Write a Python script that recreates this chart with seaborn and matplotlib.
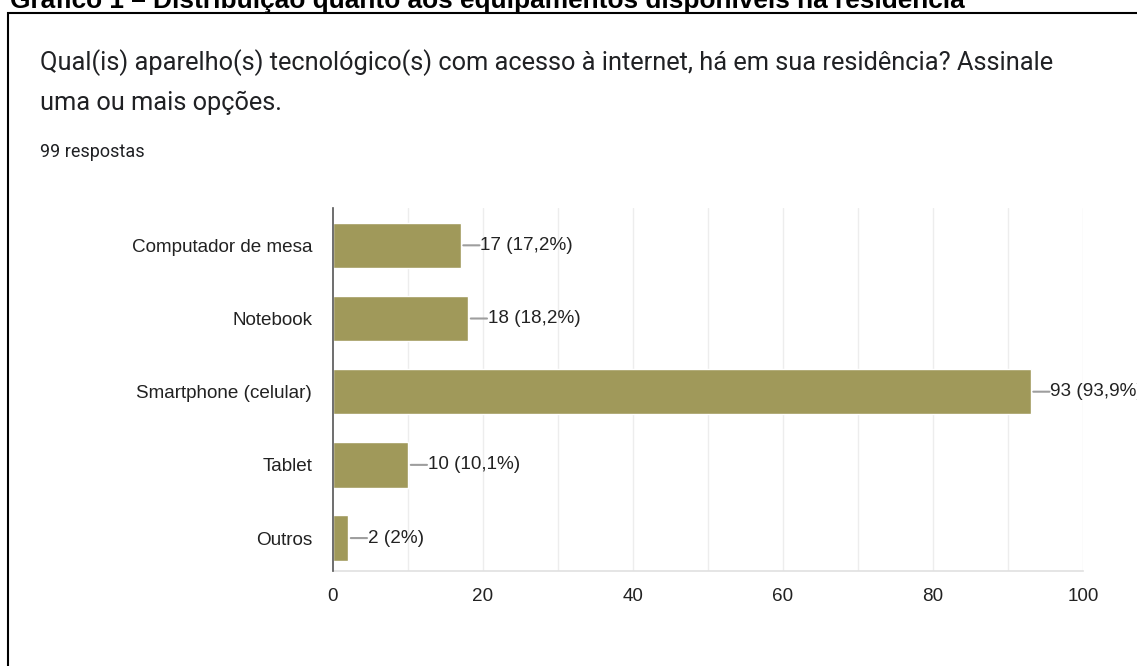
import matplotlib
matplotlib.use("Agg")
import matplotlib.pyplot as plt
import seaborn as sns
import pandas as pd
from matplotlib.patches import Rectangle

categories = ["Computador de mesa", "Notebook", "Smartphone (celular)", "Tablet", "Outros"]
counts = [17, 18, 93, 10, 2]
percent_labels = ["17,2%", "18,2%", "93,9%", "10,1%", "2%"]
x_ticks = [0, 20, 40, 60, 80, 100]

sns.set_theme(style="white")
plt.rcParams["font.family"] = ["Roboto", "DejaVu Sans"]
label_font = ["Liberation Sans Narrow", "Liberation Sans"]

df = pd.DataFrame({"categoria": categories, "respostas": counts})

W, H = 1137, 666
fig = plt.figure(figsize=(W / 100, H / 100), dpi=100)
fig.patch.set_facecolor("white")

# caption above the framed chart (runs off the top edge)
fig.text(10 / W, 1 - 8 / H,
         "Gráfico 1 – Distribuição quanto aos equipamentos disponíveis na residência",
         fontsize=18.9, fontweight="bold", family="Liberation Sans", color="black",
         ha="left", va="baseline")

# frame around the form card
fig.patches.append(Rectangle((8 / W, -0.01), 1.2, 1 - 13 / H + 0.01,
                             transform=fig.transFigure, fill=False,
                             edgecolor="black", linewidth=1.5))

fig.text(40 / W, 1 - 70 / H,
         "Qual(is) aparelho(s) tecnológico(s) com acesso à internet, há em sua residência? Assinale",
         fontsize=18.3, color="#202124", ha="left", va="baseline")
fig.text(40 / W, 1 - 110 / H, "uma ou mais opções.",
         fontsize=18.3, color="#202124", ha="left", va="baseline")
fig.text(40 / W, 1 - 157 / H, "99 respostas",
         fontsize=13, color="#202124", ha="left", va="baseline")

ax = fig.add_axes([333 / W, 1 - 571 / H, 750 / W, 363 / H])
sns.barplot(data=df, x="respostas", y="categoria", orient="h",
            color="#A0995A", saturation=1, width=0.62, ax=ax, zorder=3)

ax.set_xlim(0, 100)
ax.set_ylim(4.45, -0.51)
ax.set_xlabel("")
ax.set_ylabel("")

for v in range(10, 101, 10):
    ax.axvline(v, color="#EDEDED", linewidth=1, zorder=1)

for s in ["top", "right"]:
    ax.spines[s].set_visible(False)
ax.spines["left"].set_color("#555555")
ax.spines["left"].set_linewidth(1.2)
ax.spines["left"].set_zorder(4)
ax.spines["bottom"].set_color("#E0E0E0")
ax.spines["bottom"].set_linewidth(1.2)

ax.set_xticks(x_ticks)
ax.set_xticklabels([str(t) for t in x_ticks], family=label_font, fontsize=13.6, color="#222222")
ax.set_yticks(range(len(categories)))
ax.set_yticklabels(categories, family=label_font, fontsize=13.6, color="#222222")
ax.tick_params(axis="x", length=0, pad=12)
ax.tick_params(axis="y", length=0, pad=15)

for i, (c, p) in enumerate(zip(counts, percent_labels)):
    ax.annotate("", xy=(c, i), xytext=(19, 0), textcoords="offset pixels",
                arrowprops=dict(arrowstyle="-", color="#9E9E9E", lw=1.5,
                                shrinkA=0, shrinkB=2))
    ax.annotate(f"{c} ({p})", xy=(c, i), xytext=(20, 0), textcoords="offset pixels",
                ha="left", va="center", family=label_font, fontsize=13.6,
                color="#222222", annotation_clip=False)

fig.savefig("out.png", dpi=100, facecolor="white")
